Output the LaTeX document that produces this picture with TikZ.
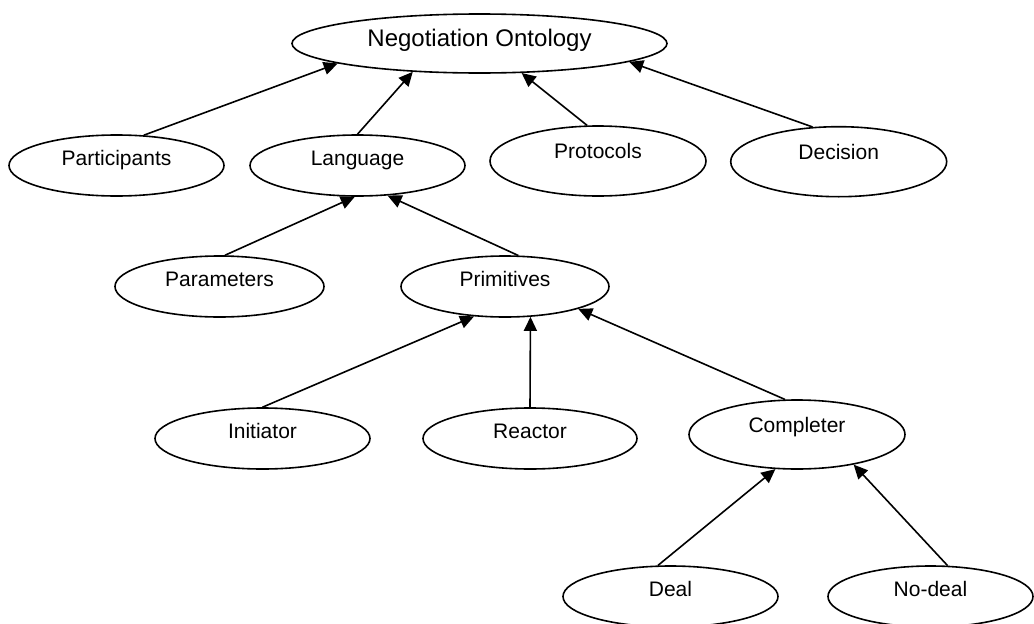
\documentclass[tikz,border=0pt]{standalone}
\usepackage{fontspec}
\setmainfont{Liberation Sans}
\usetikzlibrary{shapes.geometric,arrows.meta}

\begin{document}
\begin{tikzpicture}[x=1pt,y=-1pt,
  concept/.style={ellipse, draw, line width=1.6pt, inner sep=0pt,
    minimum width=215pt, minimum height=61pt,
    text height=12pt, text depth=12pt,
    font=\fontsize{21}{25}\selectfont},
  tall/.style={minimum height=70pt, text height=10pt, text depth=15pt},
  isa/.style={line width=1.6pt, -{Triangle[length=14pt,width=13pt]}}
]
\useasboundingbox (0,0) rectangle (1034,624);

% root concept
\node[concept, minimum width=375pt, minimum height=59pt,
      text height=15pt, text depth=9pt,
      font=\fontsize{24}{28}\selectfont] (onto) at (479.5,43.5) {Negotiation Ontology};

% first level
\node[concept] (part) at (116.5,165.5) {Participants};
\node[concept] (lang) at (357.5,165.5) {Language};
\node[concept, tall, minimum width=216pt] (prot) at (598,161) {Protocols};
\node[concept, tall, minimum width=216pt] (deci) at (838.7,161.7) {Decision};

% language parts
\node[concept, minimum width=209pt] (para) at (219.5,286.5) {Parameters};
\node[concept, minimum width=208pt] (prim) at (505,286.5) {Primitives};

% primitive kinds
\node[concept] (init) at (262.5,438.5) {Initiator};
\node[concept, minimum width=214pt] (reac) at (530,438.5) {Reactor};
\node[concept, tall, minimum width=216pt, minimum height=69pt] (comp) at (797,434.5) {Completer};

% completer outcomes
\node[concept] (deal) at (670.5,596.5) {Deal};
\node[concept, minimum width=205pt] (nodl) at (930.5,596.5) {No-deal};

% is-a links
\draw[isa] (part.48)  -- (onto.188);
\draw[isa] (lang.north) -- (onto.203);
\draw[isa] (prot.107) -- (onto.325);
\draw[isa] (deci.127) -- (onto.353);

\draw[isa] (para.80) -- (lang.265);
\draw[isa] (prim.67) -- (lang.315);

\draw[isa] (init.north) -- (prim.224);
\draw[isa] (reac.north) -- (prim.310);
\draw[isa] (comp.109) -- (prim.343);

\draw[isa] (deal.112) -- (comp.238);
\draw[isa] (nodl.61)  -- (comp.332);
\end{tikzpicture}
\end{document}
